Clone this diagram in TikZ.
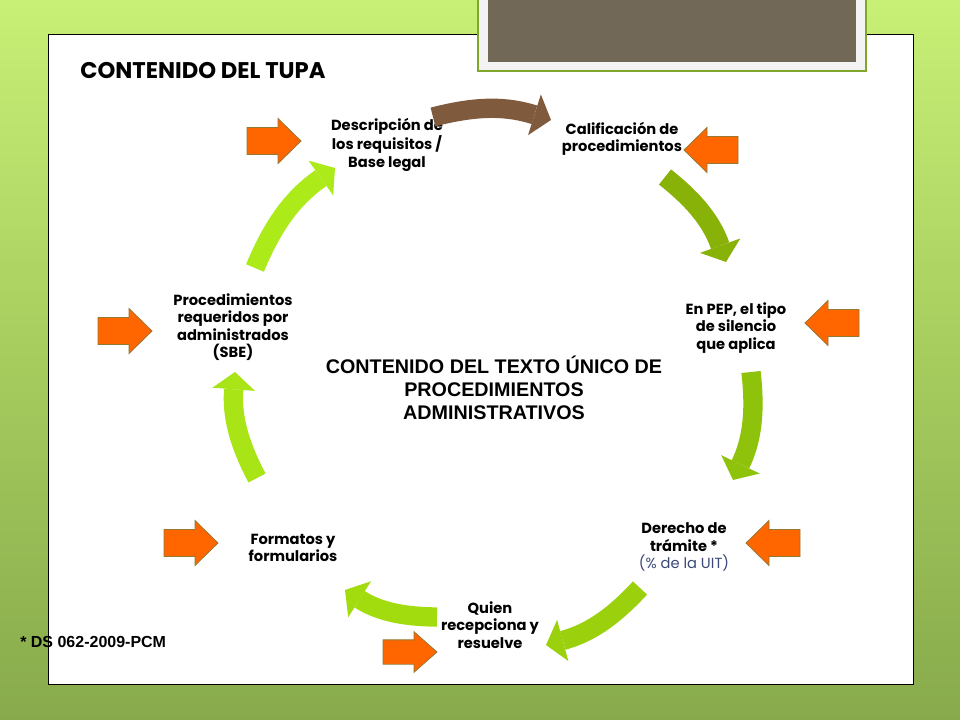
\documentclass[tikz,border=0pt]{standalone}
\usepackage{fontspec}
\setmainfont{Poppins}
\newfontfamily\arialfam{Liberation Sans}
\usetikzlibrary{arrows.meta}
\definecolor{bgtop}{RGB}{200,240,118}
\definecolor{bgmid}{RGB}{166,204,94}
\definecolor{bgbot}{RGB}{136,170,76}
\definecolor{boxgreen}{RGB}{128,166,42}
\definecolor{boxgray}{RGB}{243,243,243}
\definecolor{taupe}{RGB}{113,104,88}
\definecolor{orA}{RGB}{255,102,0}
\definecolor{orE}{RGB}{150,120,50}
\definecolor{brownA}{RGB}{128,90,60}
\definecolor{gA}{RGB}{136,178,8}
\definecolor{gB}{RGB}{143,195,11}
\definecolor{gC}{RGB}{154,208,12}
\definecolor{gD}{RGB}{163,220,14}
\definecolor{gE}{RGB}{169,228,22}
\definecolor{gF}{RGB}{173,234,26}
\definecolor{uitblue}{RGB}{60,72,120}
\tikzset{
  lbl/.style={align=center, inner sep=0pt, font=\fontsize{11}{13.1}\selectfont\bfseries},
  carr/.style={line width=14.5pt, line cap=butt, -{Triangle[length=13pt, width=32pt, line width=0pt]}},
  oarr/.pic={\filldraw[fill=orA, draw=orE, line width=0.6pt] (-27,-13.5) -- (4,-13.5) -- (4,-22.5) -- (27,0) -- (4,22.5) -- (4,13.5) -- (-27,13.5) -- cycle;}
}
\begin{document}
\begin{tikzpicture}[x=0.75pt,y=-0.75pt]
\useasboundingbox (0,0) rectangle (960,720);
% background
\shade[top color=bgtop, bottom color=bgbot, middle color=bgmid] (0,0) rectangle (960,720);
% panel
\draw[fill=white, line width=0.75pt] (48,35) rectangle (913,684);
% top box
\draw[fill=boxgray, draw=boxgreen, line width=2.2pt] (478,-6) rectangle (866,71);
\fill[taupe] (488,-2) rectangle (856,62);
% titles
\node[anchor=west, inner sep=0pt, font=\fontsize{17}{20}\selectfont\bfseries] (title) at (80,71) {CONTENIDO DEL TUPA};
\node[align=center, inner sep=0pt, font=\arialfam\fontsize{14.8}{17.25}\selectfont\bfseries] (centre) at (494,388) {CONTENIDO DEL TEXTO ÚNICO DE\\PROCEDIMIENTOS\\ADMINISTRATIVOS};
\node[anchor=west, inner sep=0pt, font=\arialfam\fontsize{12}{14}\selectfont\bfseries] (foot) at (20,642) {* DS 062-2009-PCM};
% labels
\node[lbl] (desc) at (387,145) {Descripción de\\los requisitos /\\Base legal};
\node[lbl] (calif) at (622,139) {Calificación de\\procedimientos};
\node[lbl] (pep) at (736,328) {En PEP, el tipo\\de silencio\\que aplica};
\node[lbl] (derecho) at (684,547) {Derecho de\\trámite *\\{\mdseries\color{uitblue}(\% de la UIT)}};
\node[lbl] (quien) at (490,625) {Quien\\recepciona y\\resuelve};
\node[lbl] (formatos) at (293,548) {Formatos y\\formularios};
\node[lbl] (proced) at (233,327) {Procedimientos\\requeridos por\\administrados\\(SBE)};
% curved arrows
\coordinate (t1) at (433,117); \coordinate (h1) at (551,120);
\coordinate (t2) at (665,177); \coordinate (h2) at (726,262);
\coordinate (t3) at (751,372); \coordinate (h3) at (733,480);
\coordinate (t4) at (640,588); \coordinate (h4) at (546,645);
\coordinate (t5) at (437,617); \coordinate (h5) at (345,590);
\coordinate (t6) at (257,478); \coordinate (h6) at (235,372);
\coordinate (t7) at (255,268); \coordinate (h7) at (335,168);
\draw[carr, brownA] (t1) to[bend left=16] (h1);
\draw[carr, gA] (t2) to[bend left=16] (h2);
\draw[carr, gB] (t3) to[bend left=16] (h3);
\draw[carr, gC] (t4) to[bend left=16] (h4);
\draw[carr, gD] (t5) to[bend left=16] (h5);
\draw[carr, gE] (t6) to[bend left=16] (h6);
\draw[carr, gF] (t7) to[bend left=16] (h7);
% orange arrows
\pic at (274,141) {oarr};
\pic[rotate=180] at (711,150) {oarr};
\pic[rotate=180] at (832,323) {oarr};
\pic[rotate=180] at (773,543) {oarr};
\pic[yscale=0.9] at (410,652) {oarr};
\pic at (191,543) {oarr};
\pic at (125,331) {oarr};
\end{tikzpicture}
\end{document}
